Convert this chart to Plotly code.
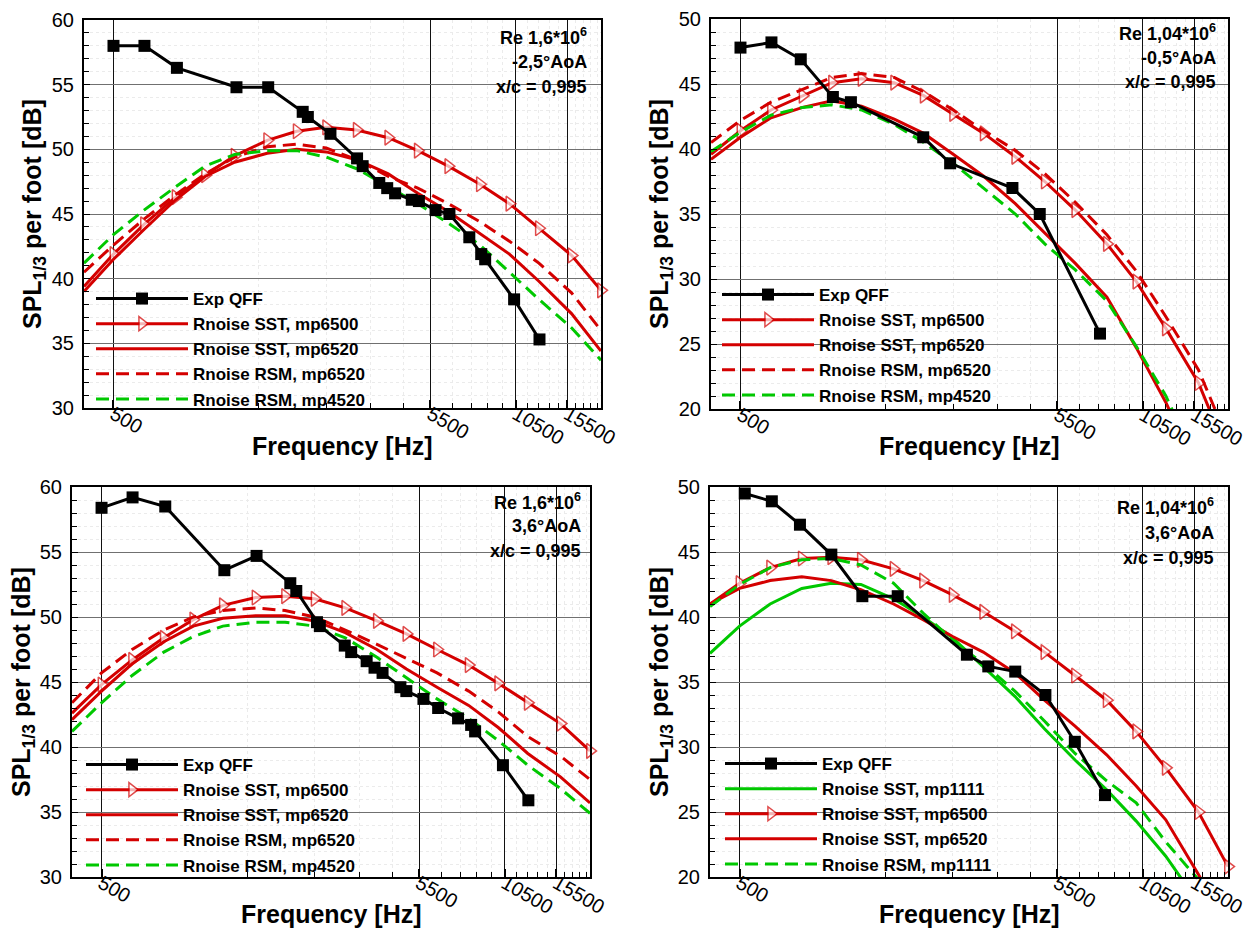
import math
import plotly.graph_objects as go

W, H = 1260, 932

# ---------------- data ----------------
# 1/3-octave band centre frequencies used by the Rnoise predictions
BANDS = [400, 500, 630, 800, 1000, 1250, 1600, 2000, 2500, 3150, 4000,
         5000, 6300, 8000, 10000, 12500, 16000, 20000]

X_TICKS = [500, 5500, 10500, 15500]
X_TICK_TEXT = ["500", "5500", "10500", "15500"]
X_MINOR = [1500, 2500, 3500, 4500, 6500, 7500, 8500, 9500,
           11500, 12500, 13500, 14500, 16500, 17500, 18500, 19500]

# Panel 1 : Re 1,6*10^6, -2,5 deg AoA
p1_exp_f = [500, 632, 808, 1268, 1612, 2093, 2176, 2582, 3158, 3294, 3736,
            3967, 4211, 4777, 5042, 5720, 6353, 7384, 8078, 8325, 10363, 12557]
p1_exp_db = [58.0, 58.0, 56.3, 54.8, 54.8, 52.9, 52.5, 51.2, 49.3, 48.7, 47.4,
             47.0, 46.6, 46.1, 46.0, 45.3, 45.0, 43.2, 41.9, 41.5, 38.4, 35.3]
p1_sst6500 = [39.4, 41.9, 44.2, 46.3, 48.0, 49.5, 50.7, 51.4, 51.7, 51.5, 50.9,
              49.9, 48.7, 47.3, 45.8, 43.9, 41.8, 39.1]
p1_sst6520 = [39.0, 41.5, 43.8, 46.1, 47.9, 49.0, 49.7, 50.0, 49.8, 49.2, 48.1,
              46.6, 45.2, 43.5, 41.9, 39.8, 37.3, 34.4]
p1_rsm6520 = [40.5, 42.6, 44.6, 46.5, 48.1, 49.4, 50.2, 50.4, 50.1, 49.2, 47.9,
              47.0, 45.8, 44.4, 42.9, 41.2, 38.9, 36.0]
p1_rsm4520 = [41.2, 43.4, 45.3, 47.1, 48.7, 49.6, 49.9, 49.9, 49.4, 48.5, 47.1,
              45.8, 44.3, 42.6, 40.5, 38.4, 36.2, 33.7]

# Panel 2 : Re 1,04*10^6, -0,5 deg AoA
p2_exp_f = [500, 632, 789, 1006, 1153, 1993, 2443, 3914, 4813, 7594]
p2_exp_db = [47.8, 48.2, 46.9, 44.0, 43.6, 40.9, 38.9, 37.0, 35.0, 25.8]
p2_sst6500 = [39.6, 41.4, 43.0, 44.1, 45.1, 45.4, 45.1, 44.1, 42.7, 41.2, 39.4,
              37.5, 35.3, 32.7, 29.8, 26.2, 22.0, 16.5]
p2_sst6520 = [39.2, 40.9, 42.4, 43.2, 43.7, 43.3, 42.3, 41.2, 39.6, 37.9, 35.8,
              33.5, 31.2, 28.6, 24.7, 20.5, 15.0, 9.0]
p2_rsm6520 = [40.5, 42.2, 43.6, 44.6, 45.5, 45.8, 45.5, 44.4, 43.0, 41.4, 39.9,
              38.1, 35.9, 33.4, 30.6, 27.1, 23.0, 17.6]
p2_rsm4520 = [39.8, 41.3, 42.6, 43.2, 43.4, 43.0, 41.9, 40.5, 38.9, 37.0, 35.0,
              32.7, 30.7, 28.3, 24.8, 21.0, 15.5, 9.5]

# Panel 3 : Re 1,6*10^6, 3,6 deg AoA
p3_exp_f = [500, 632, 809, 1264, 1612, 2080, 2176, 2544, 2600, 3138, 3294, 3702,
            3929, 4175, 4777, 4996, 5685, 6353, 7384, 8150, 8399, 10363, 12557]
p3_exp_db = [58.4, 59.2, 58.5, 53.6, 54.7, 52.6, 52.0, 49.6, 49.3, 47.8, 47.3, 46.6,
             46.1, 45.7, 44.6, 44.3, 43.7, 43.0, 42.2, 41.7, 41.2, 38.6, 35.9]
p3_sst6500 = [42.6, 44.8, 46.7, 48.4, 49.8, 50.9, 51.5, 51.6, 51.4, 50.7, 49.7,
              48.7, 47.5, 46.3, 44.9, 43.4, 41.8, 39.7]
p3_sst6520 = [42.1, 44.3, 46.4, 48.1, 49.3, 49.9, 50.1, 50.1, 49.7, 48.8, 47.5,
              46.0, 44.6, 43.2, 41.5, 39.5, 37.7, 35.7]
p3_rsm6520 = [43.4, 45.7, 47.5, 49.0, 50.0, 50.5, 50.7, 50.5, 50.0, 49.0, 47.9,
              46.8, 45.7, 44.3, 42.7, 40.8, 39.3, 37.5]
p3_rsm4520 = [41.2, 43.4, 45.5, 47.3, 48.5, 49.3, 49.6, 49.6, 49.3, 48.4, 46.9,
              45.3, 43.7, 42.2, 40.5, 38.6, 36.8, 34.9]

# Panel 4 : Re 1,04*10^6, 3,6 deg AoA
p4_exp_f = [520, 638, 789, 1000, 1264, 1651, 2784, 3272, 4011, 5037, 6290, 7901]
p4_exp_db = [49.5, 48.9, 47.1, 44.8, 41.6, 41.6, 37.1, 36.2, 35.8, 34.0, 30.4, 26.3]
p4_sst1111 = [37.2, 39.3, 41.0, 42.2, 42.6, 42.5, 41.4, 40.0, 38.4, 36.2, 33.9,
              31.4, 29.0, 26.7, 24.3, 21.6, 18.0, 14.0]
p4_sst6500 = [41.0, 42.6, 43.8, 44.5, 44.6, 44.4, 43.7, 42.8, 41.7, 40.4, 38.9,
              37.3, 35.5, 33.6, 31.2, 28.4, 25.0, 20.8]
p4_sst6520 = [41.0, 42.2, 42.8, 43.1, 42.8, 42.1, 41.0, 39.8, 38.5, 37.3, 35.7,
              33.6, 31.6, 29.4, 27.0, 24.4, 20.2, 16.0]
p4_rsm1111 = [40.8, 42.5, 43.8, 44.4, 44.5, 44.0, 42.6, 40.3, 38.2, 36.4, 34.3,
              32.0, 29.5, 27.4, 25.7, 22.7, 19.8, 16.5]

# ---------------- styling ----------------
RED = "#d40000"
GREEN = "#00c800"
FONT = "Arial, 'Liberation Sans', Helvetica, sans-serif"
DASH = "13px,7px"

fig = go.Figure()


def exp_trace(f, db, n, leg):
    return go.Scatter(x=f, y=db, mode="lines+markers", name="Exp QFF",
                      line=dict(color="black", width=3),
                      marker=dict(symbol="square", size=12, color="black"),
                      xaxis="x" + n, yaxis="y" + n, legend=leg, legendrank=1,
                      cliponaxis=False)


def model(y, name, color, dash, n, leg, rank, tri=False, clip=True):
    kw = {}
    if tri:
        sizes = [0] + [13] * (len(BANDS) - 1)
        kw["mode"] = "lines+markers"
        kw["marker"] = dict(symbol="triangle-right", size=sizes, color="white",
                            line=dict(color=color, width=1.5))
    else:
        kw["mode"] = "lines"
    return go.Scatter(x=BANDS, y=y, name=name,
                      line=dict(color=color, width=3, dash=dash),
                      xaxis="x" + n, yaxis="y" + n, legend=leg,
                      legendrank=rank, cliponaxis=clip, **kw)


# panel 1
fig.add_trace(model(p1_sst6500, "Rnoise SST, mp6500", RED, "solid", "", "legend", 2, tri=True, clip=False))
fig.add_trace(model(p1_sst6520, "Rnoise SST, mp6520", RED, "solid", "", "legend", 3))
fig.add_trace(model(p1_rsm6520, "Rnoise RSM, mp6520", RED, DASH, "", "legend", 4))
fig.add_trace(model(p1_rsm4520, "Rnoise RSM, mp4520", GREEN, DASH, "", "legend", 5))
fig.add_trace(exp_trace(p1_exp_f, p1_exp_db, "", "legend"))
# panel 2
fig.add_trace(model(p2_sst6500, "Rnoise SST, mp6500", RED, "solid", "2", "legend2", 2, tri=True))
fig.add_trace(model(p2_sst6520, "Rnoise SST, mp6520", RED, "solid", "2", "legend2", 3))
fig.add_trace(model(p2_rsm6520, "Rnoise RSM, mp6520", RED, DASH, "2", "legend2", 4))
fig.add_trace(model(p2_rsm4520, "Rnoise RSM, mp4520", GREEN, DASH, "2", "legend2", 5))
fig.add_trace(exp_trace(p2_exp_f, p2_exp_db, "2", "legend2"))
# panel 3
fig.add_trace(model(p3_sst6500, "Rnoise SST, mp6500", RED, "solid", "3", "legend3", 2, tri=True, clip=False))
fig.add_trace(model(p3_sst6520, "Rnoise SST, mp6520", RED, "solid", "3", "legend3", 3))
fig.add_trace(model(p3_rsm6520, "Rnoise RSM, mp6520", RED, DASH, "3", "legend3", 4))
fig.add_trace(model(p3_rsm4520, "Rnoise RSM, mp4520", GREEN, DASH, "3", "legend3", 5))
fig.add_trace(exp_trace(p3_exp_f, p3_exp_db, "3", "legend3"))
# panel 4
fig.add_trace(model(p4_sst1111, "Rnoise SST, mp1111", GREEN, "solid", "4", "legend4", 2))
fig.add_trace(model(p4_sst6500, "Rnoise SST, mp6500", RED, "solid", "4", "legend4", 3, tri=True, clip=False))
fig.add_trace(model(p4_sst6520, "Rnoise SST, mp6520", RED, "solid", "4", "legend4", 4))
fig.add_trace(model(p4_rsm1111, "Rnoise RSM, mp1111", GREEN, DASH, "4", "legend4", 5))
fig.add_trace(exp_trace(p4_exp_f, p4_exp_db, "4", "legend4"))

# panel boxes in pixels: left, right, top, bottom
panels = [
    dict(n="", box=(84, 601, 20, 408), yr=(30, 60), leg="legend",
         legpos=(91, 281), info=["Re 1,6*10<sup>6</sup>", "-2,5°AoA", "x/c = 0,995"],
         inforight=589, inforows=(36, 62, 87), ytitle_x=34, xtitle_y=446),
    dict(n="2", box=(711, 1228, 19, 409), yr=(20, 50), leg="legend2",
         legpos=(717, 277), info=["Re 1,04*10<sup>6</sup>", "-0,5°AoA", "x/c = 0,995"],
         inforight=1218, inforows=(33, 58, 82), ytitle_x=661, xtitle_y=446),
    dict(n="3", box=(72, 590, 487, 877), yr=(30, 60), leg="legend3",
         legpos=(81, 747), info=["Re 1,6*10<sup>6</sup>", "3,6°AoA", "x/c = 0,995"],
         inforight=583, inforows=(501, 526, 551), ytitle_x=23, xtitle_y=914),
    dict(n="4", box=(710, 1228, 487, 877), yr=(20, 50), leg="legend4",
         legpos=(720, 746), info=["Re 1,04*10<sup>6</sup>", "3,6°AoA", "x/c = 0,995"],
         inforight=1216, inforows=(507, 533, 558), ytitle_x=661, xtitle_y=914),
]

layout = dict(width=W, height=H, margin=dict(l=0, r=0, t=0, b=0, autoexpand=False),
              paper_bgcolor="white", plot_bgcolor="white",
              font=dict(family=FONT, color="black"), showlegend=True)
annotations = []

for p in panels:
    l, r, t, b = p["box"]
    n = p["n"]
    xd = [l / W, r / W]
    yd = [1 - b / H, 1 - t / H]
    layout["xaxis" + n] = dict(
        type="log", domain=xd, anchor="y" + n, automargin=False,
        range=[math.log10(400), math.log10(20000)],
        tickmode="array", tickvals=X_TICKS, ticktext=X_TICK_TEXT,
        tickangle=30, tickfont=dict(size=20, family=FONT, color="black"),
        ticks="inside", ticklen=8, tickwidth=1.5, tickcolor="black",
        ticklabelstandoff=-15,
        showgrid=True, gridcolor="#111111", gridwidth=1,
        showline=True, linecolor="black", linewidth=2, mirror=True,
        zeroline=False,
        minor=dict(tickmode="array", tickvals=X_MINOR, ticks="inside", ticklen=5,
                   tickwidth=1, tickcolor="black", showgrid=True,
                   gridcolor="#ebebeb", griddash="dot", gridwidth=1),
    )
    layout["yaxis" + n] = dict(
        domain=yd, anchor="x" + n, range=list(p["yr"]), automargin=False,
        tickmode="linear", tick0=0, dtick=5,
        tickfont=dict(size=20, family=FONT, color="black"),
        ticks="inside", ticklen=6, tickcolor="black", ticklabelstandoff=4,
        showgrid=True, gridcolor="#707070", gridwidth=1.3,
        showline=True, linecolor="black", linewidth=2, mirror=True,
        zeroline=False,
        minor=dict(dtick=1, tick0=0, ticks="inside", ticklen=5, tickwidth=1,
                   tickcolor="black", showgrid=True, gridcolor="#ebebeb",
                   griddash="dot", gridwidth=1),
    )
    lx, ly = p["legpos"]
    layout[p["leg"]] = dict(
        x=lx / W, y=1 - ly / H, xanchor="left", yanchor="top",
        bgcolor="rgba(0,0,0,0)", borderwidth=0, itemwidth=92,
        font=dict(size=17, family=FONT, color="black", weight="bold"),
        tracegroupgap=0,
    )
    for txt, row in zip(p["info"], p["inforows"]):
        annotations.append(dict(
            text=txt, xref="paper", yref="paper", x=p["inforight"] / W,
            y=1 - row / H, xanchor="right", yanchor="middle", showarrow=False,
            font=dict(size=18, family=FONT, color="black", weight="bold")))
    annotations.append(dict(
        text="Frequency [Hz]", xref="paper", yref="paper",
        x=(l + r) / 2 / W, y=1 - p["xtitle_y"] / H, xanchor="center",
        yanchor="middle", showarrow=False,
        font=dict(size=25, family=FONT, color="black", weight="bold")))
    annotations.append(dict(
        text="SPL<sub>1/3</sub> per foot [dB]", xref="paper", yref="paper",
        x=p["ytitle_x"] / W, y=1 - (t + b) / 2 / H, xanchor="center",
        yanchor="middle", textangle=-90, showarrow=False,
        font=dict(size=25, family=FONT, color="black", weight="bold")))

layout["annotations"] = annotations
fig.update_layout(**layout)
fig.write_html("out.html",
               config={"displayModeBar": False},
               post_script="document.body.style.margin='0';document.body.style.overflow='hidden';")
